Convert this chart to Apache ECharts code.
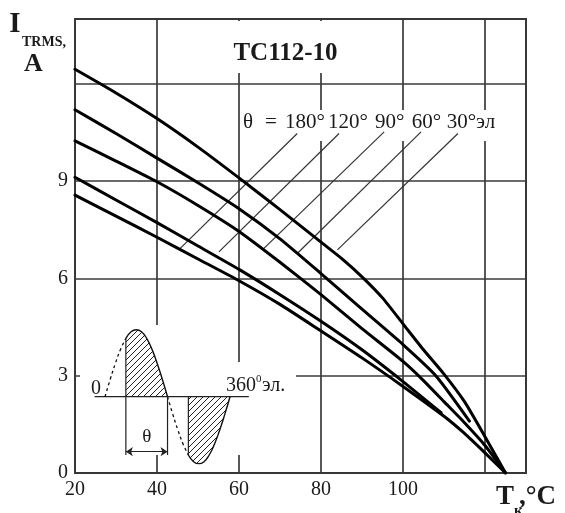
<!DOCTYPE html>
<html><head><meta charset="utf-8">
<script src="https://cdn.jsdelivr.net/npm/echarts@6/dist/echarts.min.js"></script>
<style>html,body{margin:0;padding:0;background:#fff}#c{width:565px;height:513px}</style>
</head><body><div id="c"></div>
<script>
// ---- data (Tc, °C ; I_TRMS, A) ----
const curve30  = [[20,12.45],[30,11.72],[40,10.93],[50,10.05],[60,9.1],[70,8.12],[80,7.12],[85,6.62],[90,6.05],[95,5.4],[100,4.6],[105,3.8],[110,3.05],[115,2.2],[120,1.12],[125,0]];
const curve60  = [[20,11.2],[30,10.47],[40,9.71],[50,8.95],[60,8.15],[70,7.22],[80,6.15],[90,5.05],[100,3.96],[108,3.0],[116.2,1.6]];
const curve90  = [[20,10.24],[30,9.62],[40,8.98],[50,8.25],[60,7.45],[70,6.5],[80,5.5],[90,4.45],[100,3.44],[105,2.85],[110,2.2],[115,1.55],[120,0.85],[125,0]];
const curve120 = [[20,9.12],[30,8.42],[40,7.72],[50,7.0],[60,6.28],[70,5.5],[80,4.68],[90,3.8],[100,2.82],[109.3,1.86]];
const curve180 = [[20,8.57],[30,7.92],[40,7.27],[50,6.6],[60,5.93],[70,5.2],[80,4.38],[90,3.55],[100,2.67],[110,1.75],[115,1.22],[120,0.62],[125,0]];
// leader lines from the angle labels down to their curves
const leader180 = [[45.3,6.88],[74.2,10.47]];
const leader120 = [[55.1,6.82],[84.4,10.47]];
const leader90  = [[65.7,6.88],[95.4,10.52]];
const leader60  = [[74.2,6.77],[104.4,10.52]];
const leader30  = [[84.0,6.88],[113.4,10.47]];
const xTickLabels = [20,40,60,80,100];
const yTickLabels = [0,3,6,9];
const legendLabels = ['θ','=','180°','120°','90°','60°','30°эл'];
// inset: schematic half-waves (electrical degrees, relative amplitude)
const waveDash1 = [[0,0],[15,0.26],[30,0.5],[45,0.71],[60,0.87]];
const waveOn1   = [[60,0.87],[75,0.97],[90,1],[105,0.97],[120,0.87],[135,0.71],[150,0.5],[165,0.26],[180,0]];
const waveDash2 = [[180,0],[195,-0.26],[210,-0.5],[225,-0.71],[240,-0.87]];
const waveOn2   = [[240,-0.87],[255,-0.97],[270,-1],[285,-0.97],[300,-0.87],[315,-0.71],[330,-0.5],[345,-0.26],[360,0]];
const insetBase = [[-30,0],[414,0]];
const insetV1 = [[60,0.87],[60,-0.87]];
const insetV2 = [[180,0],[180,-0.87]];
const insetV3 = [[240,0],[240,-0.87]];
const insetArrow = [[60,-0.82],[180,-0.82]];

function hatch(){
  const s=6,c=document.createElement('canvas');c.width=c.height=s;
  const g=c.getContext('2d');g.strokeStyle='#222';g.lineWidth=1;g.beginPath();
  g.moveTo(0,s);g.lineTo(s,0);g.moveTo(-1,1);g.lineTo(1,-1);g.moveTo(s-1,s+1);g.lineTo(s+1,s-1);g.stroke();
  return c;
}
const pat = {image: hatch(), repeat:'repeat'};
const FF = '"Liberation Serif", "Times New Roman", serif';
const INK = '#1a1a1a';
function txt(t,x,y,size,o){o=o||{};return {type:'text',x:x,y:y,z:10,style:{text:t,font:(o.bold?'bold ':'')+size+'px '+FF,fill:INK,align:o.align||'left',verticalAlign:o.va||'middle'}};}

const main = (d,z)=>({type:'line',data:d,symbol:'none',smooth:0.2,lineStyle:{color:'#000',width:3,join:'round',cap:'round'},z:z||4,silent:true});
const lead = d=>({type:'line',data:d,symbol:'none',lineStyle:{color:'#333',width:1.2},z:3,silent:true});
const ins = (d,o)=>Object.assign({type:'line',xAxisIndex:1,yAxisIndex:1,data:d,symbol:'none',lineStyle:{color:'#111',width:1.4},z:6,silent:true},o||{});

const legendX = [243,265,285,328,375,411.7,446.7];
const graphics = [
  {type:'rect',z:1,shape:{x:228,y:21,width:112,height:52},style:{fill:'#fff'}},
  {type:'rect',z:1,shape:{x:244,y:110,width:258,height:31},style:{fill:'#fff'}},
  {type:'polygon',z:1,shape:{points:[[80,325],[200,325],[200,362],[296,362],[296,455],[80,455]]},style:{fill:'#fff'}},
  txt('I',15,25,29,{bold:1,align:'center'}),
  txt('TRMS,',22,42.5,14,{bold:1}),
  txt('A',33.3,64,26,{bold:1,align:'center'}),
  txt('TC112-10',285.5,53.5,25,{bold:1,align:'center'}),
  txt('T',496,497.5,27,{bold:1}),
  txt('к',514,511,15,{bold:1}),
  txt(',°C',519,497.5,27,{bold:1}),
  txt('0',101,389,20,{align:'right'}),
  txt('360',226,386,20),
  txt('0',256,379,11),
  txt('эл.',262,386,20),
  txt('θ',146.7,437.5,19,{align:'center'})
];
legendLabels.forEach((s,i)=>graphics.push(txt(s,legendX[i],122.5,21)));

const chart = echarts.init(document.getElementById('c'),null,{renderer:'canvas'});
chart.setOption({
  animation:false,
  backgroundColor:'#fff',
  grid:[
    {left:75,right:39,top:19,bottom:40,show:true,borderColor:'#333',borderWidth:2,backgroundColor:'transparent'},
    {left:94.6,width:154.2,top:329.7,height:134,show:false}
  ],
  xAxis:[
    {type:'value',min:20,max:130,interval:20,gridIndex:0,
     axisLine:{show:false},axisTick:{show:false},
     splitLine:{show:true,lineStyle:{color:'#3a3a3a',width:1.7}},
     axisLabel:{margin:7,fontSize:20,fontFamily:FF,color:INK,showMinLabel:true,showMaxLabel:true,hideOverlap:false,
       formatter:v=>xTickLabels.indexOf(v)>=0?String(v):''}},
    {type:'value',min:-30,max:414,gridIndex:1,show:false}
  ],
  yAxis:[
    {type:'value',min:0,max:14,interval:3,gridIndex:0,
     axisLine:{show:false},axisTick:{show:false},
     splitLine:{show:true,lineStyle:{color:'#3a3a3a',width:1.7}},
     axisLabel:{margin:7,fontSize:20,fontFamily:FF,color:INK,showMinLabel:true,hideOverlap:false,
       formatter:v=>yTickLabels.indexOf(v)>=0?String(v):''}},
    {type:'value',min:-1,max:1,gridIndex:1,show:false}
  ],
  series:[
    lead(leader180),lead(leader120),lead(leader90),lead(leader60),lead(leader30),
    main(curve30),main(curve60),main(curve90),main(curve120),main(curve180),
    ins(insetBase,{lineStyle:{color:'#222',width:1.2}}),
    ins(waveDash1,{smooth:true,lineStyle:{color:'#111',width:1.3,type:[3,3]}}),
    ins(waveOn1,{smooth:true,areaStyle:{color:pat,opacity:1}}),
    ins(waveDash2,{smooth:true,lineStyle:{color:'#111',width:1.3,type:[3,3]}}),
    ins(waveOn2,{smooth:true,areaStyle:{color:pat,opacity:1}}),
    ins(insetV1,{lineStyle:{color:'#222',width:1.2}}),
    ins(insetV2,{lineStyle:{color:'#222',width:1.2}}),
    ins(insetV3,{lineStyle:{color:'#222',width:1.2}}),
    {type:'lines',coordinateSystem:'cartesian2d',xAxisIndex:1,yAxisIndex:1,z:6,silent:true,
     symbol:['arrow','arrow'],symbolSize:7,
     lineStyle:{color:'#222',width:1.2,opacity:1},
     data:[{coords:insetArrow}]}
  ],
  graphic:graphics
});
</script></body></html>
